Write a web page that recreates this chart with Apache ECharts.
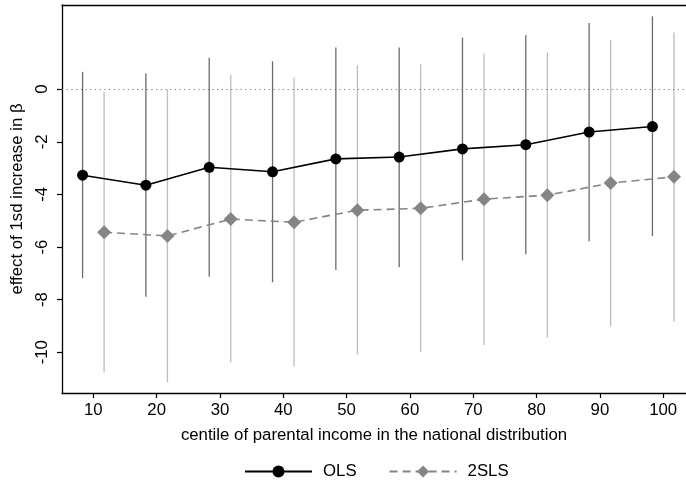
<!DOCTYPE html>
<html>
<head>
<meta charset="utf-8">
<script src="https://cdn.jsdelivr.net/npm/echarts@6/dist/echarts.min.js"></script>
<style>
  html, body { margin: 0; padding: 0; background: #fff; }
  #chart { width: 686px; height: 484px; }
</style>
</head>
<body>
<div id="chart"></div>
<script>
// Centile positions (each estimator is plotted slightly offset)
const olsCentiles  = [8.3, 18.3, 28.3, 38.3, 48.3, 58.3, 68.3, 78.3, 88.3, 98.3];
const tslsCentiles = [11.7, 21.7, 31.7, 41.7, 51.7, 61.7, 71.7, 81.7, 91.7, 101.7];

// OLS point estimates and 95% confidence bounds
const olsEst   = [-3.27, -3.65, -2.97, -3.14, -2.65, -2.58, -2.27, -2.11, -1.63, -1.42];
const olsLow   = [-7.19, -7.89, -7.13, -7.34, -6.87, -6.77, -6.51, -6.28, -5.78, -5.58];
const olsHigh  = [ 0.66,  0.60,  1.19,  1.06,  1.58,  1.58,  1.96,  2.06,  2.52,  2.77];

// 2SLS point estimates and 95% confidence bounds
const tslsEst  = [-5.44, -5.58, -4.94, -5.06, -4.60, -4.53, -4.18, -4.03, -3.57, -3.33];
const tslsLow  = [-10.76, -11.14, -10.39, -10.55, -10.09, -9.99, -9.73, -9.45, -9.01, -8.84];
const tslsHigh = [-0.10, -0.01, 0.56, 0.44, 0.91, 0.95, 1.36, 1.39, 1.86, 2.15];

// Axis tick labels
const xTicks = [10, 20, 30, 40, 50, 60, 70, 80, 90, 100];
const yTicks = [-10, -8, -6, -4, -2, 0];

const FONT = '"Liberation Sans", Arial, Helvetica, sans-serif';
const FS = 16.8;

function zip(xs, ys) { return xs.map((x, i) => [x, ys[i]]); }
function zip3(xs, a, b) { return xs.map((x, i) => [x, a[i], b[i]]); }

function ciRenderer(color) {
  return function (params, api) {
    const x = api.value(0);
    const p1 = api.coord([x, api.value(1)]);
    const p2 = api.coord([x, api.value(2)]);
    return {
      type: 'line',
      shape: { x1: p1[0], y1: p1[1], x2: p2[0], y2: p2[1] },
      style: { stroke: color, lineWidth: 1.3 }
    };
  };
}

const chart = echarts.init(document.getElementById('chart'), null, { renderer: 'canvas' });

const axisCommon = {
  type: 'value',
  splitLine: { show: false },
  axisLine: { show: true, onZero: false, lineStyle: { color: '#000', width: 1.3 } },
  axisTick: { show: true, length: 5, lineStyle: { color: '#000', width: 1.2 } },
  axisLabel: { color: '#000', fontFamily: FONT, fontSize: FS },
  nameTextStyle: { color: '#000', fontFamily: FONT, fontSize: FS }
};

chart.setOption({
  animation: false,
  backgroundColor: '#fff',
  textStyle: { fontFamily: FONT },
  grid: { left: 62, right: 0, top: 5, bottom: 91, containLabel: false },
  xAxis: [
    Object.assign({}, axisCommon, {
      min: 5.05, max: 103.6,
      name: 'centile of parental income in the national distribution',
      nameLocation: 'middle', nameGap: 34,
      axisTick: Object.assign({}, axisCommon.axisTick, { customValues: xTicks }),
      axisLabel: Object.assign({}, axisCommon.axisLabel, { customValues: xTicks, margin: 9 })
    }),
    {
      type: 'value', position: 'top', min: 5.05, max: 103.6,
      axisLine: { show: true, onZero: false, lineStyle: { color: '#000', width: 1.3 } },
      axisTick: { show: false }, axisLabel: { show: false }, splitLine: { show: false }
    }
  ],
  yAxis: Object.assign({}, axisCommon, {
    min: -11.55, max: 3.2,
    name: 'effect of 1sd increase in β',
    nameLocation: 'middle', nameGap: 31, nameRotate: 90,
    axisTick: Object.assign({}, axisCommon.axisTick, { customValues: yTicks }),
    axisLabel: Object.assign({}, axisCommon.axisLabel, {
      customValues: yTicks, rotate: 90, margin: 11, align: 'center', verticalAlign: 'bottom'
    })
  }),
  legend: {
    data: ['OLS', '2SLS'],
    left: 244, top: 463, padding: 0,
    itemWidth: 67, itemHeight: 15, itemGap: 32,
    textStyle: { color: '#000', fontFamily: FONT, fontSize: FS, padding: [0, 0, 0, 6] }
  },
  series: [
    {
      name: 'OLS CI', type: 'custom', z: 1,
      renderItem: ciRenderer('#6a6a6a'),
      encode: { x: 0, y: [1, 2] },
      data: zip3(olsCentiles, olsLow, olsHigh)
    },
    {
      name: '2SLS CI', type: 'custom', z: 1,
      renderItem: ciRenderer('#bdbdbd'),
      encode: { x: 0, y: [1, 2] },
      data: zip3(tslsCentiles, tslsLow, tslsHigh)
    },
    {
      name: '2SLS', type: 'line', z: 3,
      data: zip(tslsCentiles, tslsEst),
      symbol: 'diamond', symbolSize: 14,
      itemStyle: { color: '#858585' },
      lineStyle: { color: '#858585', width: 1.6, type: [8, 5] }
    },
    {
      name: 'OLS', type: 'line', z: 4,
      data: zip(olsCentiles, olsEst),
      symbol: 'circle', symbolSize: 11,
      itemStyle: { color: '#000' },
      lineStyle: { color: '#000', width: 1.6 },
      markLine: {
        silent: true, symbol: 'none', label: { show: false },
        lineStyle: { color: '#777', type: [1.2, 3.5], width: 1.2 },
        data: [{ yAxis: 0 }]
      }
    }
  ]
});
</script>
</body>
</html>
